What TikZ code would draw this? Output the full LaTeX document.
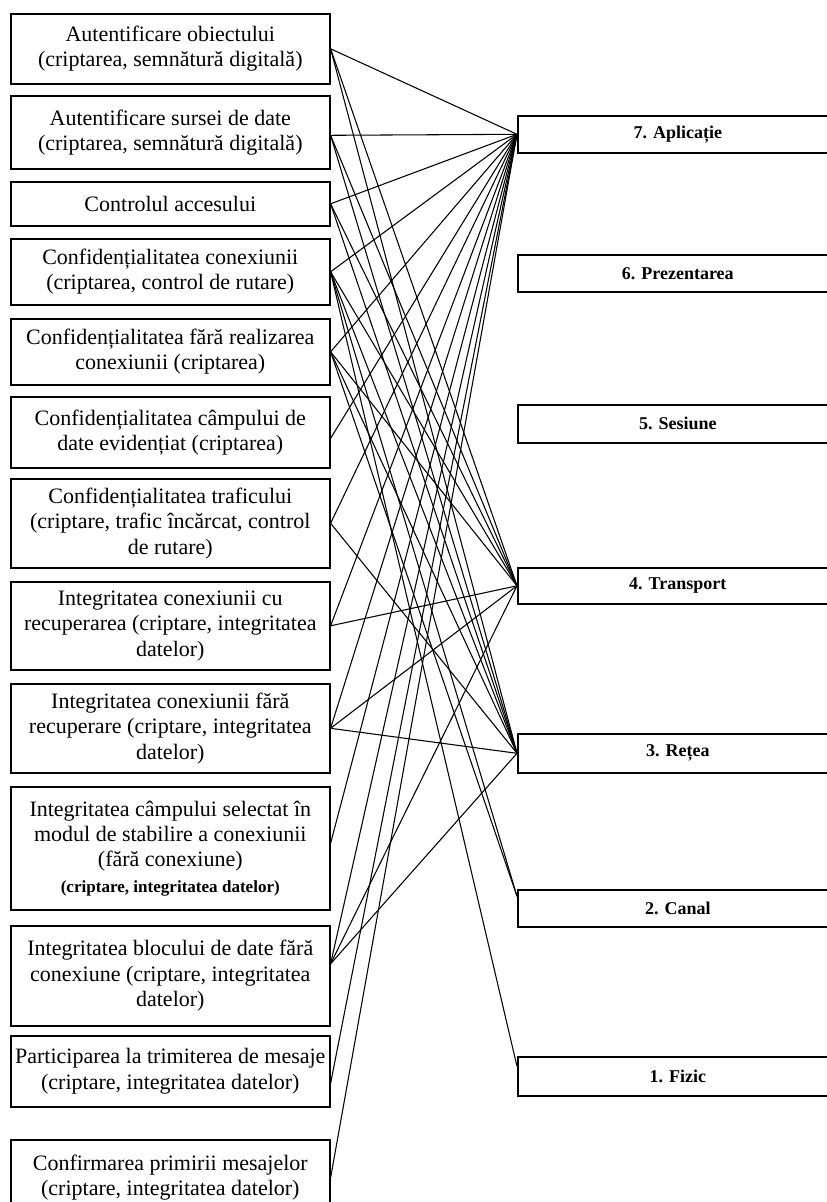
\documentclass[tikz,border=0pt]{standalone}
\usepackage{fontspec}
\setmainfont{Liberation Serif}
\usepackage{tikz}
\usetikzlibrary{calc}

\begin{document}
\begin{tikzpicture}[x=0.75pt,y=0.75pt,yscale=-1,
  serv/.style={draw, line width=1.2pt, anchor=north west, inner sep=0pt, minimum width=239.25pt, align=center, font=\fontsize{16.5}{19}\selectfont},
  layer/.style={draw, line width=1.2pt, anchor=north west, inner sep=0pt, minimum width=240pt, minimum height=27.75pt, font=\fontsize{13.5}{15}\selectfont\bfseries},
  link/.style={line width=0.8pt}]
\useasboundingbox (0,0) rectangle (827,1202);
\clip (0,0) rectangle (827,1202);

%Shape: Rectangle (services)
\draw (10,13) node [serv, minimum height=52.5pt] (s1) {Autentificare obiectului\\(criptarea, semnătură digitală)};
\draw (10,95) node [serv, minimum height=54.75pt] (s2) {Autentificare sursei de date\\(criptarea, semnătură digitală)};
\draw (10,181) node [serv, minimum height=33pt] (s3) {Controlul accesului};
\draw (10,238) node [serv, minimum height=49.5pt] (s4) {Confidențialitatea conexiunii\\(criptarea, control de rutare)};
\draw (10,318) node [serv, minimum height=49.5pt] (s5) {Confidențialitatea fără realizarea\\conexiunii (criptarea)};
\draw (10,396) node [serv, minimum height=53.25pt] (s6) {Confidențialitatea câmpului de\\date evidențiat (criptarea)};
\draw (10,478) node [serv, minimum height=66.75pt] (s7) {Confidențialitatea traficului\\(criptare, trafic încărcat, control\\de rutare)};
\draw (10,581) node [serv, minimum height=66pt] (s8) {Integritatea conexiunii cu\\recuperarea (criptare, integritatea\\datelor)};
\draw (10,683) node [serv, minimum height=66.75pt] (s9) {Integritatea conexiunii fără\\recuperare (criptare, integritatea\\datelor)};
\draw (10,786) node [serv, minimum height=92.25pt] (s10) {Integritatea câmpului selectat în\\modul de stabilire a conexiunii\\(fără conexiune)\\{\fontsize{12.8}{15}\selectfont\bfseries (criptare, integritatea datelor)}};
\draw (10,925) node [serv, minimum height=75pt] (s11) {Integritatea blocului de date fără\\conexiune (criptare, integritatea\\datelor)};
\draw (10,1035) node [serv, minimum height=53.25pt] (s12) {Participarea la trimiterea de mesaje\\(criptare, integritatea datelor)};
\draw (10,1139) node [serv, minimum height=57pt] (s13) {Confirmarea primirii mesajelor\\(criptare, integritatea datelor)};

%Shape: Rectangle (layers)
\draw (517,115) node [layer] (r7) {7. Aplicație};
\draw (517,254) node [layer] (r6) {6. Prezentarea};
\draw (517,404) node [layer, minimum height=28.5pt] (r5) {5. Sesiune};
\draw (517,567) node [layer, minimum height=27pt] (r4) {4. Transport};
\draw (517,733) node [layer, minimum height=29.25pt] (r3) {3. Rețea};
\draw (517,889) node [layer] (r2) {2. Canal};
\draw (517,1056) node [layer, minimum height=29.25pt] (r1) {1. Fizic};

%Straight Lines
\draw [link] (s1.east) -- (r7.west);
\draw [link] (s1.east) -- (r4.west);
\draw [link] (s1.east) -- (r3.west);
\draw [link] ($(s2.east)+(0,3)$) -- (r7.west);
\draw [link] ($(s2.east)+(0,3)$) -- (r4.west);
\draw [link] ($(s2.east)+(0,3)$) -- (r3.west);
\draw [link] (s3.east) -- (r7.west);
\draw [link] (s3.east) -- (r4.west);
\draw [link] (s3.east) -- (r3.west);
\draw [link] (s4.east) -- (r7.west);
\draw [link] (s4.east) -- (r4.west);
\draw [link] (s4.east) -- (r3.west);
\draw [link] (s4.east) -- ($(r2.west)+(0,-12)$);
\draw [link] (s4.east) -- ($(r1.west)+(0,-10)$);
\draw [link] (s5.east) -- (r7.west);
\draw [link] (s5.east) -- (r4.west);
\draw [link] (s5.east) -- (r3.west);
\draw [link] (s5.east) -- ($(r2.west)+(0,-12)$);
\draw [link] ($(s6.east)+(0,6)$) -- (r7.west);
\draw [link] (s7.east) -- (r7.west);
\draw [link] (s7.east) -- (r3.west);
\draw [link] (s8.east) -- (r7.west);
\draw [link] (s8.east) -- (r4.west);
\draw [link] (s9.east) -- (r7.west);
\draw [link] (s9.east) -- (r4.west);
\draw [link] (s9.east) -- (r3.west);
\draw [link] ($(s10.east)+(0,-5)$) -- (r7.west);
\draw [link] ($(s11.east)+(0,-12)$) -- (r7.west);
\draw [link] ($(s11.east)+(0,-12)$) -- (r4.west);
\draw [link] ($(s11.east)+(0,-12)$) -- (r3.west);
\draw [link] ($(s12.east)+(0,12)$) -- (r7.west);
\draw [link] (s13.east) -- (r7.west);

\end{tikzpicture}
\end{document}
